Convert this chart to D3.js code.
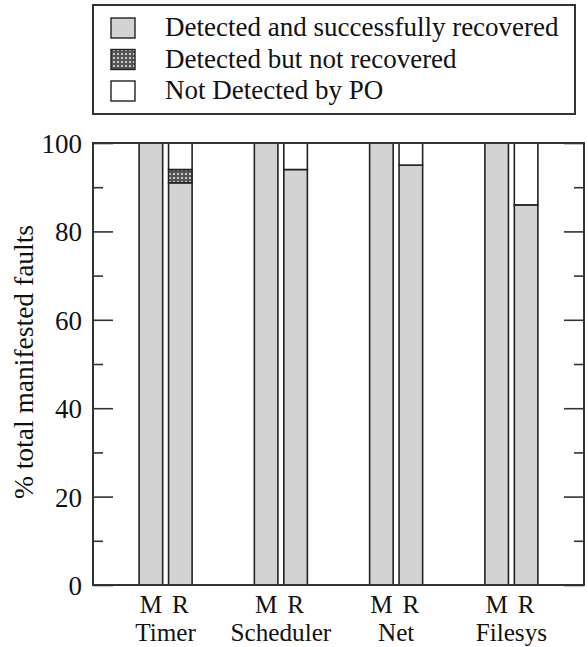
<!DOCTYPE html>
<html>
<head>
<meta charset="utf-8">
<script src="https://cdn.jsdelivr.net/npm/d3@7"></script>
<style>
  body { margin: 0; background: #fff; }
  text { font-family: "Liberation Serif", "DejaVu Serif", serif; fill: #111; }
</style>
</head>
<body>
<svg id="chart" width="588" height="647"></svg>
<script>
// chart data
var groups = ["Timer", "Scheduler", "Net", "Filesys"];
var kinds = ["M", "R"];
var recoveredM = [100, 100, 100, 100];
var notRecoveredM = [0, 0, 0, 0];
var notDetectedM = [0, 0, 0, 0];
var recoveredR = [91, 94, 95, 86];
var notRecoveredR = [3, 0, 0, 0];
var notDetectedR = [6, 6, 5, 14];
var seriesNames = ["Detected and successfully recovered", "Detected but not recovered", "Not Detected by PO"];
var yTicks = [0, 20, 40, 60, 80, 100];

var svg = d3.select("#chart");
var line = "#333";

var defs = svg.append("defs");
var pat = defs.append("pattern")
	.attr("id", "dots")
	.attr("patternUnits", "userSpaceOnUse")
	.attr("width", 4).attr("height", 4);
pat.append("rect").attr("width", 4).attr("height", 4).attr("fill", "#555");
pat.append("rect").attr("x", 1).attr("y", 1).attr("width", 2).attr("height", 2).attr("fill", "#c8c8c8");

var fills = ["#d3d3d3", "url(#dots)", "#fff"];

// rows for the stack: one per group/kind
var rows = [];
groups.forEach(function(g, i){
	rows.push({group: g, kind: "M", s0: recoveredM[i], s1: notRecoveredM[i], s2: notDetectedM[i]});
	rows.push({group: g, kind: "R", s0: recoveredR[i], s1: notRecoveredR[i], s2: notDetectedR[i]});
});
var stacked = d3.stack().keys(["s0", "s1", "s2"])(rows);

var plotLeft = 93, plotRight = 584, plotTop = 143, plotBottom = 585;

var x0 = d3.scaleBand().domain(groups).range([plotLeft, plotRight]).paddingOuter(0.13).paddingInner(0);
var x1 = d3.scaleBand().domain(kinds).range([-26.5, 26.5]).paddingInner(0.2);
var y = d3.scaleLinear().domain([0, 100]).range([plotBottom, plotTop]);

// bars
stacked.forEach(function(layer, li){
	svg.append("g").selectAll("rect")
		.data(layer.filter(function(d){ return d[1] - d[0] > 0; }))
		.enter().append("rect")
		.attr("x", function(d){ return x0(d.data.group) + x0.bandwidth()/2 + x1(d.data.kind); })
		.attr("width", x1.bandwidth())
		.attr("y", function(d){ return y(d[1]); })
		.attr("height", function(d){ return y(d[0]) - y(d[1]); })
		.attr("fill", fills[li])
		.attr("stroke", "#222")
		.attr("stroke-width", 1.6);
});

// axes: ticks point inward on both sides
var minor = d3.range(10, 100, 20);
var leftAxis = svg.append("g").attr("transform", "translate(" + plotLeft + ",0)")
	.call(d3.axisRight(y).tickValues(yTicks).tickSize(20).tickFormat(""));
var leftMinor = svg.append("g").attr("transform", "translate(" + plotLeft + ",0)")
	.call(d3.axisRight(y).tickValues(minor).tickSize(10).tickFormat(""));
var rightAxis = svg.append("g").attr("transform", "translate(" + plotRight + ",0)")
	.call(d3.axisLeft(y).tickValues(yTicks).tickSize(20).tickFormat(""));
var rightMinor = svg.append("g").attr("transform", "translate(" + plotRight + ",0)")
	.call(d3.axisLeft(y).tickValues(minor).tickSize(10).tickFormat(""));
[leftAxis, leftMinor, rightAxis, rightMinor].forEach(function(a){
	a.select(".domain").remove();
	a.selectAll("line").attr("stroke", line).attr("stroke-width", 1.6);
});

// frame
svg.append("rect")
	.attr("x", plotLeft).attr("y", plotTop)
	.attr("width", plotRight - plotLeft).attr("height", plotBottom - plotTop)
	.attr("fill", "none").attr("stroke", line).attr("stroke-width", 2);

// tick labels
svg.append("g").selectAll("text")
	.data(yTicks).enter().append("text")
	.attr("x", plotLeft - 11)
	.attr("y", function(d){ return y(d) + 10; })
	.attr("text-anchor", "end")
	.style("font-size", "27px")
	.text(function(d){ return d; });

// y label
svg.append("text")
	.attr("transform", "translate(33,362) rotate(-90)")
	.attr("text-anchor", "middle")
	.style("font-size", "27.5px")
	.text("% total manifested faults");

// category labels
groups.forEach(function(g){
	var cx = x0(g) + x0.bandwidth()/2;
	kinds.forEach(function(k){
		svg.append("text")
			.attr("x", cx + x1(k) + x1.bandwidth()/2)
			.attr("y", 613)
			.attr("text-anchor", "middle")
			.style("font-size", "25.2px")
			.text(k);
	});
	svg.append("text")
		.attr("x", cx)
		.attr("y", 641)
		.attr("text-anchor", "middle")
		.style("font-size", "25.2px")
		.text(g);
});

// legend
var legend = svg.append("g");
legend.append("rect")
	.attr("x", 93).attr("y", 5).attr("width", 482).attr("height", 109)
	.attr("fill", "#fff").attr("stroke", line).attr("stroke-width", 2);
seriesNames.forEach(function(name, i){
	var ly = 18 + i * 31.5;
	legend.append("rect")
		.attr("x", 111).attr("y", ly).attr("width", 24).attr("height", 20)
		.attr("fill", fills[i]).attr("stroke", "#222").attr("stroke-width", 1.4);
	legend.append("text")
		.attr("x", 165).attr("y", ly + 18)
		.style("font-size", "27px")
		.text(name);
});
</script>
</body>
</html>
